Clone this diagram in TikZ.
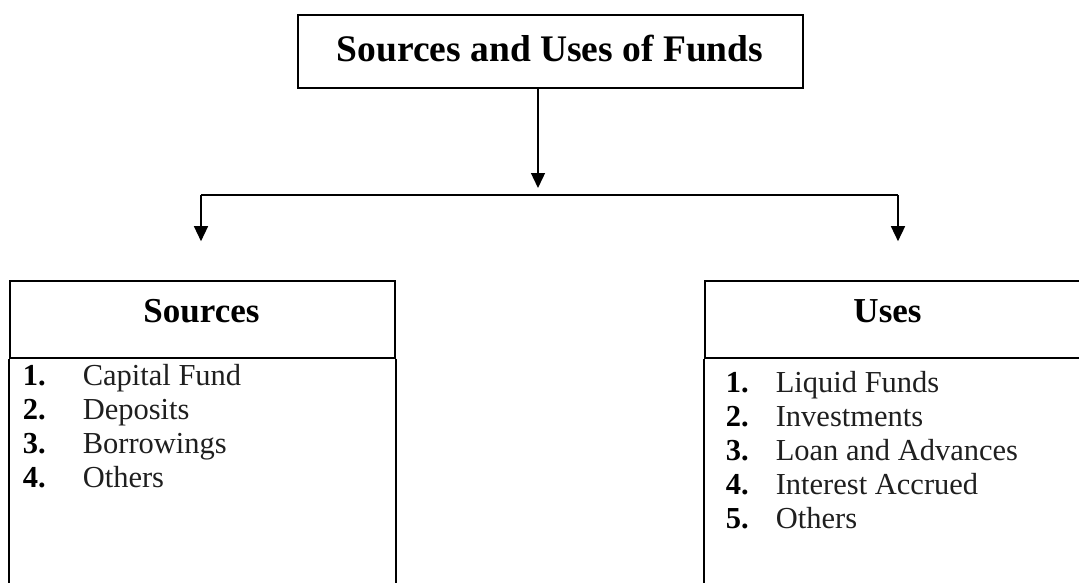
\documentclass[tikz,border=0pt]{standalone}
\usepackage{fontspec}
\setmainfont{Liberation Serif}
\usetikzlibrary{arrows.meta}
\begin{document}
\begin{tikzpicture}[x=1pt,y=-1pt,
  line width=1.6pt,
  boxst/.style={draw, rectangle, inner sep=0pt},
  arr/.style={-{Triangle[length=15pt,width=14pt]}, line width=1.4pt},
  headtxt/.style={font=\fontsize{35}{40}\selectfont\bfseries, inner sep=0pt, anchor=base},
  itemtxt/.style={font=\fontsize{30.5}{34}\selectfont, inner sep=0pt, anchor=base west, text=black!88},
  numtxt/.style={font=\fontsize{30.5}{34}\selectfont\bfseries, inner sep=0pt, anchor=base west}]
\useasboundingbox (0,0) rectangle (1079,583);
\fill[white] (0,0) rectangle (1079,583);
% title
\node[boxst, minimum width=505pt, minimum height=73pt] (title) at (550.5,51.5) {};
\node[inner sep=0pt, anchor=base, font=\fontsize{37.5}{44}\selectfont\bfseries] (titletxt) at (550,62) {Sources and Uses of Funds};
% header boxes
\node[boxst, minimum width=385pt, minimum height=77pt] (sources) at (202.5,319.5) {};
\node[headtxt] (sourcestxt) at (201.5,322) {Sources};
\node[boxst, minimum width=385pt, minimum height=77pt] (uses) at (897.5,319.5) {};
\node[headtxt] (usestxt) at (887.5,322) {Uses};
% body boxes (extend beyond the page)
\draw (sources.south west) -- ++(0,260) (sources.south east) -- ++(0,260);
\draw (uses.south west) -- ++(0,260);
% connectors
\coordinate (j) at (538,188);
\coordinate (bl) at (201,195);
\coordinate (br) at (898,195);
\draw[arr] (title.south -| j) -- (j);
\draw[line width=1.4pt] (bl) -- (br);
\draw[arr, shorten >=39pt] (bl) -- (bl |- sources.north);
\draw[arr, shorten >=39pt] (br) -- (br |- uses.north);
% left list
\foreach \n/\t/\y [count=\i] in {1./Capital Fund/385, 2./Deposits/419, 3./Borrowings/453, 4./Others/487}{
  \node[numtxt] (sn\i) at (22,\y) {\n};
  \node[itemtxt] (si\i) at (82,\y) {\t};
}
% right list
\foreach \n/\t/\y [count=\i] in {1./Liquid Funds/392, 2./Investments/426, 3./Loan and Advances/460, 4./Interest Accrued/494, 5./Others/528}{
  \node[numtxt] (un\i) at (725,\y) {\n};
  \node[itemtxt] (ui\i) at (775,\y) {\t};
}
\end{tikzpicture}
\end{document}
